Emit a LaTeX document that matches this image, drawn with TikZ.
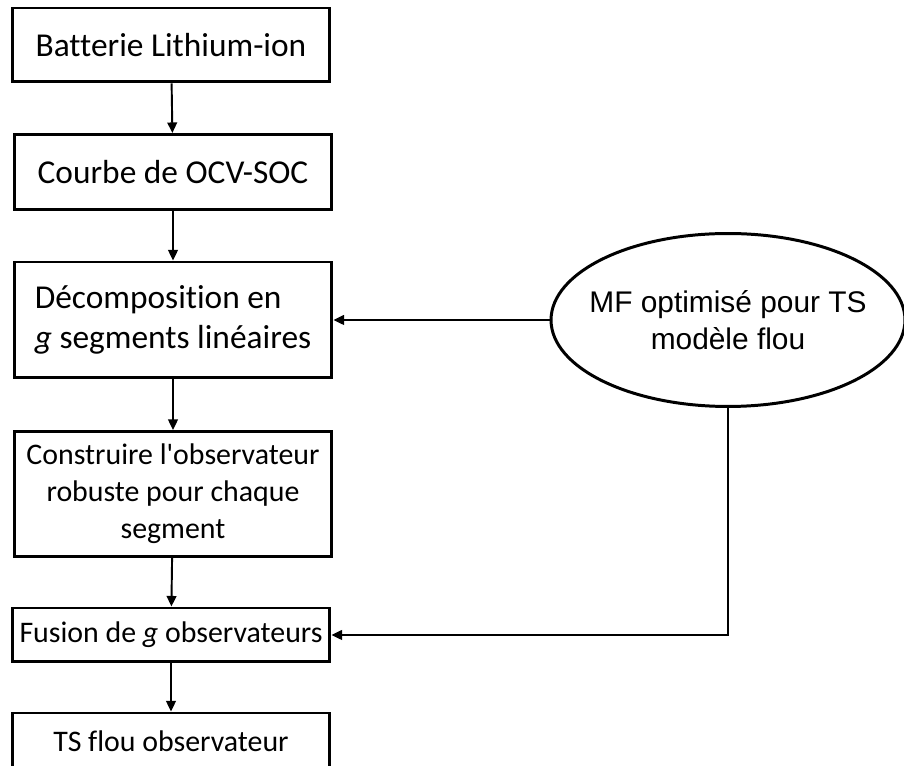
\documentclass[tikz,border=0pt]{standalone}
\usepackage{fontspec}
\setmainfont{Carlito}[Ligatures={NoCommon}]
\newfontfamily\arialfont{Liberation Sans}
\usetikzlibrary{arrows.meta, shapes.geometric}

\begin{document}
\begin{tikzpicture}[
    x=0.02cm, y=-0.02cm,
    >={Triangle[length=6pt, width=5.5pt]},
    line width=1.1pt,
    stepbox/.style={draw, line width=1.7pt, inner sep=0pt,
        minimum width=6.36cm, align=center,
        font=\fontsize{17}{21}\selectfont},
    bigtext/.style={font=\fontsize{19}{23}\selectfont},
    fuzzy/.style={draw, ellipse, line width=1.7pt,
        minimum width=7.08cm, minimum height=3.46cm,
        inner xsep=-1cm, inner ysep=0pt, align=center,
        font=\arialfont\fontsize{17}{21}\selectfont}
]

% Frame of the picture
\useasboundingbox (0,0) rectangle (904,766);

% Main chain of boxes
\node[stepbox, bigtext, minimum height=1.48cm] (bat) at (171,45)
    {Batterie Lithium-ion};
\node[stepbox, bigtext, minimum height=1.5cm] (ocv) at (173,172)
    {Courbe de OCV-SOC};
\node[stepbox, bigtext, minimum height=2.32cm, align=left] (dec) at (173,320)
    {D\'ecomposition en\\\textit{g} segments lin\'eaires};
\node[stepbox, minimum height=2.5cm] (obs) at (173,494)
    {Construire l\textquotesingle observateur\\robuste pour chaque\\segment};
\node[stepbox, minimum height=1.08cm] (fus) at (171,635)
    {Fusion de \textit{g} observateurs};
\node[stepbox, minimum height=1.12cm] (tsf) at (171,741)
    {TS flou observateur};

% Membership functions
\node[fuzzy] (mf) at (728,320)
    {MF optimis\'e pour TS\\mod\`ele flou};

% Vertical arrows
\draw[->] (bat) -- (ocv);
\draw[->] (ocv) -- (dec);
\draw[->] (dec) -- (obs);
\draw[->] (obs) -- (fus);
\draw[->] (fus) -- (tsf);

% Arrows from the ellipse
\draw[->] (mf.west) -- (dec.east);
\draw[->] (mf.south) |- (fus.east);
\end{tikzpicture}
\end{document}
